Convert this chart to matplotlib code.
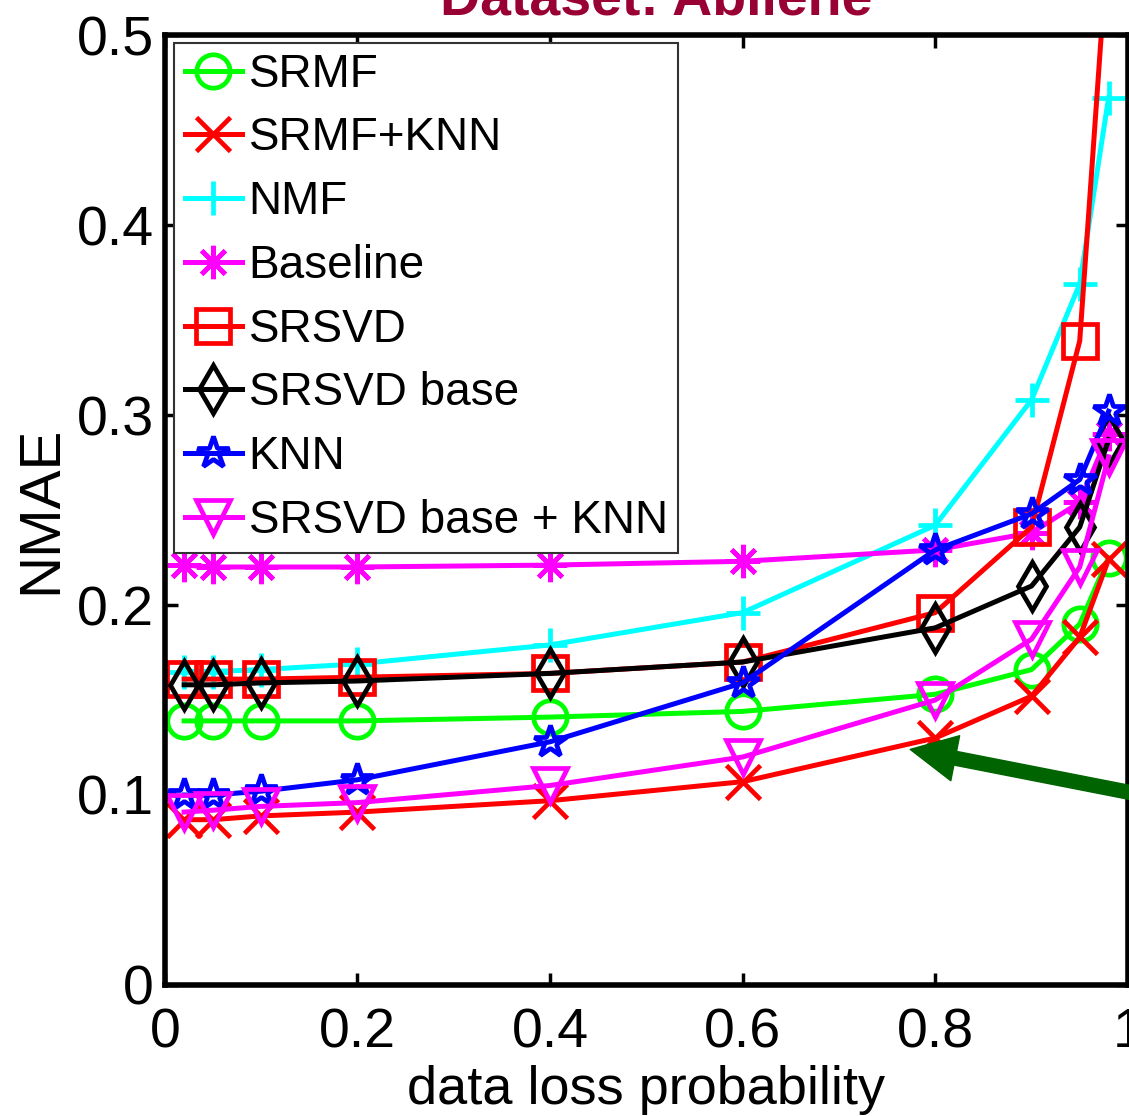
"""NMAE vs. data loss probability on the Abilene dataset (MATLAB-style export)."""

import matplotlib
matplotlib.use("Agg")
import matplotlib.pyplot as plt

plt.rcParams["font.family"] = ["Liberation Sans", "DejaVu Sans"]

# data loss probabilities shared by every method
loss_prob = [0.02, 0.05, 0.1, 0.2, 0.4, 0.6, 0.8, 0.9, 0.95, 0.98]

srmf = [0.139, 0.139, 0.139, 0.139, 0.141, 0.144, 0.153, 0.166, 0.190, 0.225]
srmf_knn = [0.087, 0.087, 0.089, 0.091, 0.097, 0.107, 0.130, 0.152, 0.183, 0.224]
nmf = [0.165, 0.165, 0.166, 0.169, 0.179, 0.196, 0.242, 0.308, 0.369, 0.467]
baseline = [0.221, 0.220, 0.220, 0.220, 0.221, 0.223, 0.229, 0.238, 0.254, 0.290]
srsvd = [0.161, 0.161, 0.161, 0.162, 0.164, 0.170, 0.196, 0.241, 0.339, 0.555]
srsvd_base = [0.158, 0.158, 0.159, 0.160, 0.164, 0.170, 0.188, 0.210, 0.241, 0.287]
knn = [0.100, 0.100, 0.102, 0.108, 0.128, 0.159, 0.229, 0.248, 0.266, 0.302]
srsvd_base_knn = [0.091, 0.092, 0.094, 0.096, 0.105, 0.120, 0.150, 0.182, 0.220, 0.278]

x_ticks = [0, 0.2, 0.4, 0.6, 0.8, 1.0]
x_tick_labels = ["0", "0.2", "0.4", "0.6", "0.8", "1"]
y_ticks = [0, 0.1, 0.2, 0.3, 0.4, 0.5]
y_tick_labels = ["0", "0.1", "0.2", "0.3", "0.4", "0.5"]

# (label, values, colour, marker)
series = [
    ("SRMF", srmf, "#00ff00", "o"),
    ("SRMF+KNN", srmf_knn, "#ff0000", "x"),
    ("NMF", nmf, "#00ffff", "+"),
    ("Baseline", baseline, "#ff00ff", (8, 2, 0)),
    ("SRSVD", srsvd, "#ff0000", "s"),
    ("SRSVD base", srsvd_base, "#000000", "d"),
    ("KNN", knn, "#0000ff", "*"),
    ("SRSVD base + KNN", srsvd_base_knn, "#ff00ff", "v"),
]

fig = plt.figure(figsize=(11.29, 11.16), dpi=100)
ax = fig.add_axes([0.146, 0.1174, 0.853, 0.8512])

for label, vals, color, marker in series:
    ax.plot(loss_prob, vals, color=color, marker=marker, label=label,
            linewidth=3.6, markersize=24, markeredgewidth=3.4,
            markerfacecolor="none", markeredgecolor=color)

ax.set_xlim(0, 1)
ax.set_ylim(0, 0.5)
ax.set_xticks(x_ticks)
ax.set_xticklabels(x_tick_labels)
ax.set_yticks(y_ticks)
ax.set_yticklabels(y_tick_labels)
ax.tick_params(direction="in", top=True, right=True, length=9, width=2.5,
               labelsize=40)
ax.tick_params(axis="x", pad=16)
ax.tick_params(axis="y", pad=8)
for sp in ax.spines.values():
    sp.set_linewidth(4)

ax.set_xlabel("data loss probability", fontsize=39, labelpad=4)
ax.set_ylabel("NMAE", fontsize=42, labelpad=6)

leg = ax.legend(loc="upper left", bbox_to_anchor=(0.01, 0.992),
                borderaxespad=0, fontsize=33, handlelength=1.25,
                handletextpad=0.15, labelspacing=0.43, borderpad=0.22,
                fancybox=False, framealpha=1)
leg.get_frame().set_edgecolor("#333333")
leg.get_frame().set_linewidth(1.5)

# green arrow pointing at SRMF+KNN
ax.annotate("", xy=(0.774, 0.124), xytext=(1.1, 0.0916),
            arrowprops=dict(facecolor="#006400", edgecolor="#006400",
                            width=10, headwidth=33, headlength=33, shrink=0),
            annotation_clip=False)

fig.text(0.581, 0.9866, "Dataset: Abilene", fontsize=40, fontweight="bold",
         color="#990033", ha="center", va="baseline")

fig.savefig("out.png", dpi=100)
